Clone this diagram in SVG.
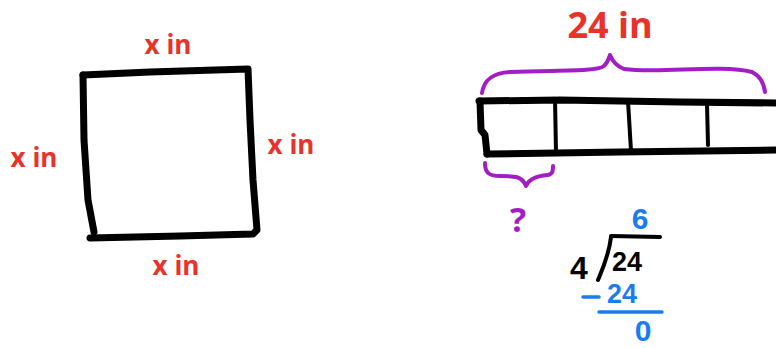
<svg xmlns="http://www.w3.org/2000/svg" width="776" height="348" viewBox="0 0 776 348">
<style>
.ink{fill:none;stroke:#000;stroke-width:7;stroke-linecap:round;stroke-linejoin:round}
.thin{fill:none;stroke:#000;stroke-width:4;stroke-linecap:round}
.brace{fill:none;stroke:#a21ec4;stroke-width:4;stroke-linecap:round;stroke-linejoin:round}
.blueline{fill:none;stroke:#1b7cf0;stroke-width:3.5;stroke-linecap:round}
.red{fill:#e8322a;font-family:"Open Sans","Liberation Sans",sans-serif;font-weight:bold}
.blue{fill:#1b7cf0;font-family:"Liberation Sans",sans-serif;font-weight:bold}
.black{fill:#000;font-family:"Liberation Sans",sans-serif;font-weight:bold}
.purple{fill:#a21ec4;font-family:"Open Sans","Liberation Sans",sans-serif;font-weight:bold}
</style>
<rect width="776" height="348" fill="#fff"/>
<g id="square">
<path class="ink" d="M83,75 L150,72 L248,69 L250,120 L253,180 L257,230 L253,234 L180,236 L90,238"/>
<path class="ink" d="M83,75 L84,140 L88,200 L94,232"/>
</g>
<g id="square-labels">
<text class="red" x="168" y="54" font-size="26" text-anchor="middle">x in</text>
<text class="red" x="34" y="167" font-size="26" text-anchor="middle">x in</text>
<text class="red" x="291" y="154" font-size="26" text-anchor="middle">x in</text>
<text class="red" x="176" y="275" font-size="26" text-anchor="middle">x in</text>
</g>
<g id="tape">
<path class="ink" d="M479,101 L560,100 L680,102 L776,103"/>
<path class="ink" d="M487,154 L620,152 L776,150"/>
<path class="ink" d="M480,101 L481,130 L485,135 L487,154"/>
<path class="thin" d="M555,99 L556,152"/>
<path class="thin" d="M628,101 L631,151"/>
<path class="thin" d="M707,104 L708,145"/>
</g>
<g id="braces">
<path class="brace" d="M482,93 C484,80 492,73 510,72 C560,70 596,72 604,66 C608,62 609,58 610,55 C612,60 616,66 624,69 C660,74 720,64 752,72 C760,76 764,84 765,92"/>
<path class="brace" d="M485,163 C485,172 488,176 500,176 C515,176 522,176 526,186 C530,177 540,176 548,175 C553,174 553,170 553,166"/>
</g>
<g id="tape-labels">
<text class="red" x="610" y="38" font-size="36" text-anchor="middle">24 in</text>
<text class="purple" x="518" y="232" font-size="34" text-anchor="middle">?</text>
</g>
<g id="division">
<text class="blue" x="640" y="229" font-size="30" text-anchor="middle">6</text>
<path class="thin" d="M611,236 L660,237" stroke-width="3.5"/>
<path class="thin" d="M611,237 C609,255 603,268 598,280" stroke-width="3.5"/>
<text class="black" x="579" y="279" font-size="32" text-anchor="middle">4</text>
<text class="black" x="627" y="271" font-size="27" text-anchor="middle">24</text>
<path class="blueline" d="M583,297 L599,297"/>
<text class="blue" x="622" y="303" font-size="27" text-anchor="middle">24</text>
<path class="blueline" d="M599,312 L662,312"/>
<text class="blue" x="643" y="341" font-size="30" text-anchor="middle">0</text>
</g>
</svg>
